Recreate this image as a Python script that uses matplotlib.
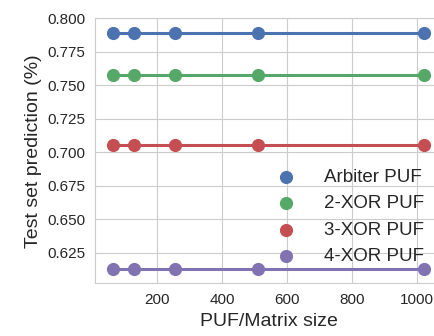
import matplotlib
matplotlib.use("Agg")
import matplotlib.pyplot as plt
import seaborn as sns

sizes = [64, 128, 256, 512, 1024]
arbiter = [0.789, 0.789, 0.789, 0.789, 0.789]
xor2 = [0.7576, 0.7576, 0.7576, 0.7576, 0.7576]
xor3 = [0.7053, 0.7053, 0.7053, 0.7053, 0.7053]
xor4 = [0.6125, 0.6125, 0.6125, 0.6125, 0.6125]
names = ["Arbiter PUF", "2-XOR PUF", "3-XOR PUF", "4-XOR PUF"]

sns.set_style("whitegrid")
plt.rcParams['font.family'] = ['Liberation Sans', 'DejaVu Sans']
plt.rcParams['text.color'] = '.15'
plt.rcParams['axes.labelcolor'] = '.15'
plt.rcParams['xtick.color'] = '.15'
plt.rcParams['ytick.color'] = '.15'

colors = ["#4C72B0", "#55A868", "#C44E52", "#8172B2"]

fig = plt.figure(figsize=(4.35, 3.36), dpi=100)
ax = fig.add_axes([0.2184, 0.1568, 0.799, 0.789])

for ys, c, n in zip([arbiter, xor2, xor3, xor4], colors, names):
    ax.plot(sizes, ys, color=c, lw=2.2, zorder=2)
    ax.scatter(sizes, ys, s=90, color=c, label=n, zorder=3, linewidths=0)

ax.set_xlim(8, 1080)
ax.set_ylim(0.602, 0.800)
ax.set_xticks([200, 400, 600, 800, 1000])
ax.set_yticks([0.625, 0.650, 0.675, 0.700, 0.725, 0.750, 0.775, 0.800])
ax.set_yticklabels(["%.3f" % v for v in ax.get_yticks()])
ax.tick_params(labelsize=11)
ax.set_xlabel("PUF/Matrix size", fontsize=14)
ax.set_ylabel("Test set prediction (%)", fontsize=14)
ax.legend(loc='lower right', frameon=False, fontsize=13.5, scatterpoints=1,
          handletextpad=1.0, borderaxespad=0.5, labelspacing=0.5,
          bbox_to_anchor=(0.995, 0.005))

fig.savefig("out.png", dpi=100)
